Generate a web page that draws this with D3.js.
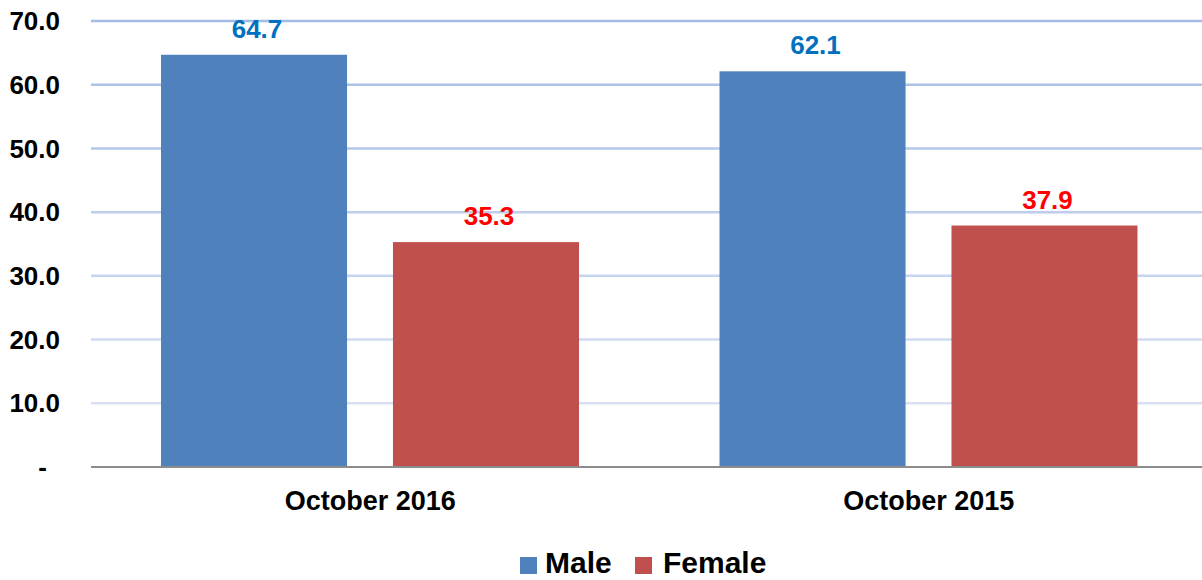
<!DOCTYPE html>
<html>
<head>
<meta charset="utf-8">
<script src="https://cdn.jsdelivr.net/npm/d3@7"></script>
<style>
  body { margin: 0; background: #fff; }
  text { font-family: Arial, "Liberation Sans", sans-serif; font-weight: bold; }
</style>
</head>
<body>
<div id="chart"></div>
<script>
// chart data
const categories = ["October 2016", "October 2015"];
const seriesNames = ["Male", "Female"];
const male = [64.7, 62.1];
const female = [35.3, 37.9];
const yTicks = [0, 10, 20, 30, 40, 50, 60, 70];

const width = 1202, height = 580;
const barColors = ["#4f81bd", "#c0504d"];
const labelColors = ["#0070c0", "#ff0000"];

const svg = d3.select("#chart").append("svg")
  .attr("width", width)
  .attr("height", height);

const y = d3.scaleLinear().domain([0, 70]).range([467, 21]);

const x0 = d3.scaleBand().domain(categories).range([91, 1208]);
const x1 = d3.scaleBand().domain(seriesNames).range([70, 488]).paddingInner(0.198);

// gridlines, fading toward the bottom
const gridColor = d3.interpolateRgb("#dfe7f5", "#a4bce6");
svg.append("g").selectAll("line")
  .data(yTicks.filter((d) => d > 0))
  .enter()
  .append("line")
  .attr("x1", 91)
  .attr("x2", width)
  .attr("y1", (d) => y(d))
  .attr("y2", (d) => y(d))
  .attr("stroke", (d) => gridColor(d / 70))
  .attr("stroke-width", 2.5);

// y labels
svg.append("g").selectAll("text")
  .data(yTicks)
  .enter()
  .append("text")
  .attr("x", (d) => d === 0 ? 47 : 60)
  .attr("y", (d) => y(d))
  .attr("dy", "0.35em")
  .attr("text-anchor", "end")
  .attr("font-size", 26)
  .attr("fill", "#000")
  .text((d) => d === 0 ? "-" : d.toFixed(1));

const rows = categories.map((c, i) => ({ cat: c, values: [male[i], female[i]] }));

const groups = svg.append("g").selectAll("g")
  .data(rows)
  .enter()
  .append("g")
  .attr("transform", (d) => `translate(${x0(d.cat)},0)`);

groups.selectAll("rect")
  .data((d) => d.values.map((v, j) => ({ name: seriesNames[j], value: v, j })))
  .enter()
  .append("rect")
  .attr("x", (d) => x1(d.name))
  .attr("width", x1.bandwidth())
  .attr("y", (d) => y(d.value))
  .attr("height", (d) => y(0) - y(d.value))
  .attr("fill", (d) => barColors[d.j]);

groups.selectAll("text")
  .data((d) => d.values.map((v, j) => ({ name: seriesNames[j], value: v, j })))
  .enter()
  .append("text")
  .attr("x", (d) => x1(d.name) + x1.bandwidth() / 2 + 3)
  .attr("y", (d) => y(d.value) - 17)
  .attr("text-anchor", "middle")
  .attr("font-size", 26)
  .attr("fill", (d) => labelColors[d.j])
  .text((d) => d.value.toFixed(1));

// baseline
svg.append("line")
  .attr("x1", 91)
  .attr("x2", width)
  .attr("y1", y(0))
  .attr("y2", y(0))
  .attr("stroke", "#8c8c8c")
  .attr("stroke-width", 2);

// category labels
svg.append("g").selectAll("text")
  .data(categories)
  .enter()
  .append("text")
  .attr("x", (d) => x0(d) + x0.bandwidth() / 2)
  .attr("y", 510)
  .attr("text-anchor", "middle")
  .attr("font-size", 27)
  .attr("fill", "#000")
  .text((d) => d);

// legend
const legendX = [520, 635];
const legend = svg.append("g").selectAll("g")
  .data(seriesNames)
  .enter()
  .append("g")
  .attr("transform", (d, i) => `translate(${legendX[i]},557)`);

legend.append("rect")
  .attr("width", 17)
  .attr("height", 17)
  .attr("fill", (d, i) => barColors[i]);

legend.append("text")
  .attr("x", (d, i) => i === 0 ? 25 : 28)
  .attr("y", 16)
  .attr("font-size", 30)
  .attr("fill", "#000")
  .text((d) => d);
</script>
</body>
</html>
